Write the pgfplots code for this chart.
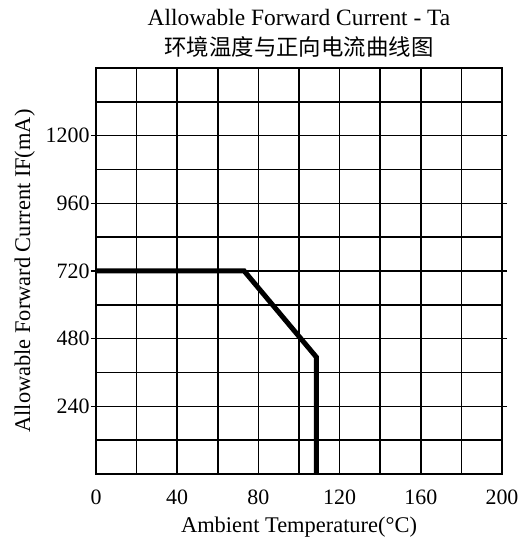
\documentclass[border=0pt]{standalone}
\usepackage{pgfplots}
\pgfplotsset{compat=1.18}
\usepackage{fontspec}
\setmainfont{Liberation Serif}
\newfontfamily\cjk{Noto Sans CJK SC}

\begin{document}
\begin{tikzpicture}
\begin{axis}[
    scale only axis,
    width=406bp, height=406bp,
    xmin=0, xmax=200, ymin=0, ymax=1440,
    xtick={0,40,...,200},
    minor xtick={20,60,...,180},
    ytick={240,480,...,1200},
    minor ytick={120,360,...,1320},
    grid=both,
    grid style={black, line width=1.6pt},
    minor grid style={black, line width=1.6pt},
    axis line style={black, line width=2pt},
    x tick style={draw=none},
    y tick style={black, line width=1.6pt},
    minor tick style={draw=none},
    tick align=outside,
    major tick length=5bp,
    /pgf/number format/assume math mode=true,
    /pgf/number format/1000 sep={},
    ticklabel style={font=\fontsize{22}{24}\selectfont},
    xticklabel style={yshift=-7bp},
    yticklabel style={xshift=2bp},
    label style={font=\fontsize{22.5}{24}\selectfont},
    xlabel={Ambient Temperature(°C)},
    ylabel={Allowable Forward Current IF(mA)},
    xlabel style={yshift=-6bp},
    ylabel style={yshift=4bp},
    title={Allowable Forward Current - Ta\\{\cjk\fontsize{22.5}{30}\selectfont 环境温度与正向电流曲线图}},
    title style={align=center, font=\fontsize{23.5}{30}\selectfont, yshift=1bp},
]
\addplot[black, line width=5bp, line join=miter] coordinates {
    (0,720) (73,720) (108.5,415) (108.5,0)
};
\end{axis}
\pgfresetboundingbox
\path[use as bounding box] (current axis.south west) ++(-96bp,-66bp) rectangle ++(519bp,540bp);
\end{tikzpicture}
\end{document}
